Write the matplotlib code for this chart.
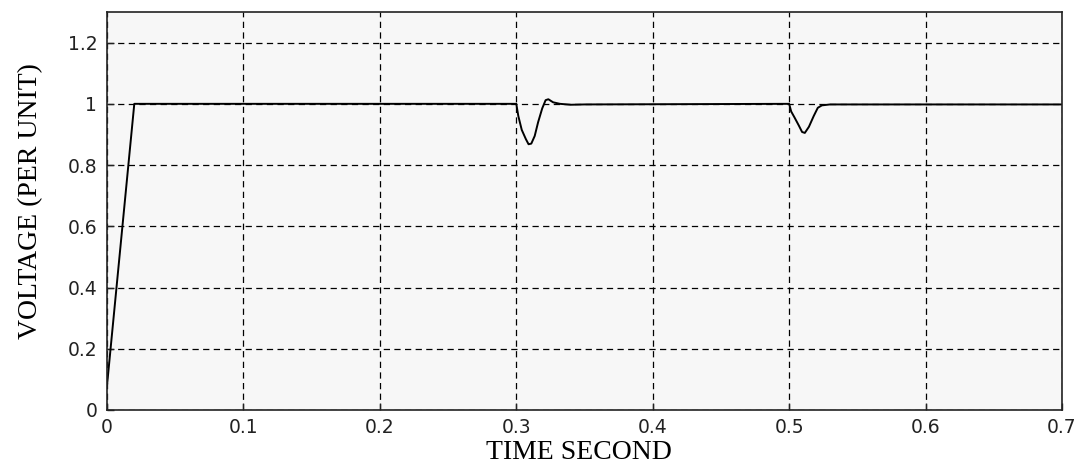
import matplotlib
matplotlib.use("Agg")
import matplotlib.pyplot as plt

# voltage trace
time_s = [0.0, 0.02, 0.3, 0.3015, 0.304, 0.307, 0.309, 0.311, 0.3135, 0.316, 0.319,
          0.3215, 0.3235, 0.327, 0.332, 0.34, 0.35, 0.5, 0.5015, 0.504, 0.507, 0.5095,
          0.5115, 0.5145, 0.518, 0.521, 0.524, 0.53, 0.7]
voltage = [0.08, 1.0, 1.0, 0.96, 0.915, 0.885, 0.868, 0.87, 0.895, 0.94, 0.985,
           1.012, 1.015, 1.005, 1.0, 0.997, 0.998, 1.0, 0.975, 0.955, 0.93, 0.908,
           0.905, 0.925, 0.96, 0.987, 0.995, 0.998, 0.998]

x_ticks = [0, 0.1, 0.2, 0.3, 0.4, 0.5, 0.6, 0.7]
x_labels = ["0", "0.1", "0.2", "0.3", "0.4", "0.5", "0.6", "0.7"]
y_ticks = [0, 0.2, 0.4, 0.6, 0.8, 1.0, 1.2]
y_labels = ["0", "0.2", "0.4", "0.6", "0.8", "1", "1.2"]

fig = plt.figure(figsize=(10.82, 4.70), dpi=100)
ax = fig.add_axes([0.0989, 0.1277, 0.8826, 0.8468])
ax.set_facecolor("#f7f7f7")

ax.plot(time_s, voltage, color="black", linewidth=1.4)

ax.set_xlim(0, 0.7)
ax.set_ylim(0, 1.3)
ax.set_xticks(x_ticks)
ax.set_xticklabels(x_labels)
ax.set_yticks(y_ticks)
ax.set_yticklabels(y_labels)
ax.tick_params(direction="in", length=5, width=1, labelsize=13.5, colors="#222222")
ax.tick_params(axis="x", pad=6)
ax.tick_params(axis="y", pad=7)
ax.grid(True, color="black", linestyle=(0, (5, 3.5)), linewidth=0.9)
for sp in ax.spines.values():
    sp.set_linewidth(1.2)
    sp.set_color("#222222")

ax.set_xlabel("TIME SECOND", family="Liberation Serif", fontsize=20)
ax.set_ylabel("VOLTAGE (PER UNIT)", family="Liberation Serif", fontsize=20)
ax.xaxis.set_label_coords(0.494, -0.075)
ax.yaxis.set_label_coords(-0.067, 0.525)

fig.savefig("out.png", dpi=100)
